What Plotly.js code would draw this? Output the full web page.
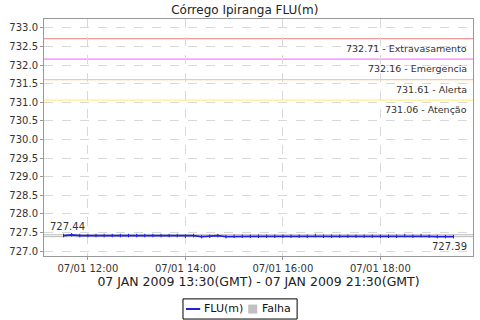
<!DOCTYPE html>
<html><head><meta charset="utf-8">
<script src="https://cdn.plot.ly/plotly-3.0.1.min.js"></script>
<style>html,body{margin:0;padding:0;background:#fff;}#c{width:480px;height:320px;}</style>
</head><body><div id="c"></div>
<script>
const times = ["11:30","11:40","11:50","12:00","12:10","12:20","12:30","12:40","12:50","13:00","13:10","13:20","13:30","13:40","13:50",
"14:00","14:10","14:20","14:30","14:40","14:50","15:00","15:10","15:20","15:30","15:40","15:50","16:00","16:10","16:20","16:30",
"16:40","16:50","17:00","17:10","17:20","17:30","17:40","17:50","18:00","18:10","18:20","18:30","18:40","18:50","19:00","19:10","19:20","19:30"];
const fluValues = [727.42,727.44,727.42,727.42,727.42,727.42,727.42,727.42,727.42,727.42,727.42,727.42,727.42,727.42,727.42,
727.40,727.42,727.39,727.40,727.42,727.39,727.40,727.40,727.40,727.40,727.40,727.40,727.40,727.40,727.40,727.40,
727.42,727.40,727.40,727.40,727.40,727.40,727.40,727.40,727.40,727.40,727.40,727.42,727.40,727.42,727.40,727.39,727.39,727.39];
const thresholdValues = [732.71, 732.16, 731.61, 731.06];
const thresholdNames = ["Extravasamento", "Emergencia", "Alerta", "Atenção"];
const thresholdColors = ["#f09a9a", "#ff7cff", "#ffc888", "#fff088"];
const maxValue = 727.44, minValue = 727.39;
const xTickVals = ["2009-01-07 12:00","2009-01-07 14:00","2009-01-07 16:00","2009-01-07 18:00"];
const xTickText = ["07/01 12:00","07/01 14:00","07/01 16:00","07/01 18:00"];
const seriesNames = ["FLU(m)", "Falha"];
const seriesColors = ["#2020e0", "#c0c0c0"];

const xs = times.map(t => "2009-01-07 " + t);
const FAM = "DejaVu Sans, sans-serif";
const font = {family: FAM, size: 10, color: "#333"};

const shapes = [], annotations = [];
thresholdValues.forEach((v, i) => {
  shapes.push({type:"line", layer:"below", xref:"paper", x0:0, x1:1, yref:"y", y0:v, y1:v, line:{color:thresholdColors[i], width:1.3}});
  annotations.push({xref:"paper", x:0.99, yref:"y", y:v, xanchor:"right", yanchor:"top", yshift:-2,
    text: v.toFixed(2) + " - " + thresholdNames[i], showarrow:false, font:{family:FAM, size:9.5, color:"#333"}});
});
[maxValue, minValue].forEach(v => shapes.push({type:"line", layer:"below", xref:"paper", x0:0, x1:1, yref:"y", y0:v, y1:v, line:{color:"#b8b8b8", width:1}}));
annotations.push({xref:"paper", x:0.01, yref:"y", y:maxValue, xanchor:"left", yanchor:"bottom", yshift:1, text:maxValue.toFixed(2), showarrow:false, font:{family:FAM, size:10, color:"#333"}});
annotations.push({xref:"paper", x:0.99, yref:"y", y:minValue, xanchor:"right", yanchor:"top", yshift:-2, text:minValue.toFixed(2), showarrow:false, font:{family:FAM, size:10, color:"#333"}});

// legend box (drawn in paper coordinates below the plot)
shapes.push({type:"rect", xref:"paper", yref:"paper", x0:0.324, x1:0.590, y0:-0.266, y1:-0.181, line:{color:"#000", width:1}, fillcolor:"#fff"});
shapes.push({type:"line", xref:"paper", yref:"paper", x0:0.331, x1:0.364, y0:-0.2236, y1:-0.2236, line:{color:seriesColors[0], width:2}});
shapes.push({type:"rect", xref:"paper", yref:"paper", x0:0.476, x1:0.497, y0:-0.243, y1:-0.205, line:{width:0}, fillcolor:seriesColors[1]});
annotations.push({xref:"paper", yref:"paper", x:0.368, y:-0.2236, xanchor:"left", yanchor:"middle", text:seriesNames[0], showarrow:false, font:{family:FAM, size:11, color:"#111"}});
annotations.push({xref:"paper", yref:"paper", x:0.503, y:-0.2236, xanchor:"left", yanchor:"middle", text:seriesNames[1], showarrow:false, font:{family:FAM, size:11, color:"#111"}});

const traces = [
  {x: xs, y: fluValues, type:"scatter", mode:"lines+markers", name:seriesNames[0],
   line:{color:seriesColors[0], width:1.8}, marker:{symbol:"line-ns-open", size:2.5, line:{color:"#8c8cff", width:1}}},
  {x: [null], y: [null], type:"scatter", mode:"markers", name:seriesNames[1],
   marker:{symbol:"square", size:9, color:seriesColors[1]}}
];

const layout = {
  width:480, height:320,
  margin:{l:44, r:7, t:19, b:64, autoexpand:false},
  paper_bgcolor:"#fff", plot_bgcolor:"#fff",
  font: font,
  title:{text:"Córrego Ipiranga FLU(m)", x:0.51, xref:"container", y:0.968, yref:"container", yanchor:"middle",
         font:{family:FAM, size:12, color:"#222"}},
  xaxis:{type:"date", range:["2009-01-07 11:06","2009-01-07 19:54"],
         tickvals:xTickVals, ticktext:xTickText, tickfont:font, tickangle:0, automargin:false,
         showgrid:true, gridcolor:"#d8d8d8", griddash:"dash", gridwidth:1,
         showline:true, linecolor:"#999", mirror:true, ticks:"outside", ticklen:3, tickcolor:"#999",
         zeroline:false,
         title:{text:"07 JAN 2009 13:30(GMT) - 07 JAN 2009 21:30(GMT)", standoff:4,
                font:{family:FAM, size:12.5, color:"#222"}}},
  yaxis:{range:[726.87, 733.24], dtick:0.5, tick0:727, tickformat:".1f", tickfont:font, automargin:false,
         showgrid:true, gridcolor:"#d8d8d8", griddash:"dash", gridwidth:1,
         showline:true, linecolor:"#999", mirror:true, ticks:"outside", ticklen:3, tickcolor:"#999",
         zeroline:false},
  showlegend:false,
  shapes: shapes,
  annotations: annotations
};
Plotly.newPlot("c", traces, layout, {displayModeBar:false, staticPlot:true});
</script></body></html>
